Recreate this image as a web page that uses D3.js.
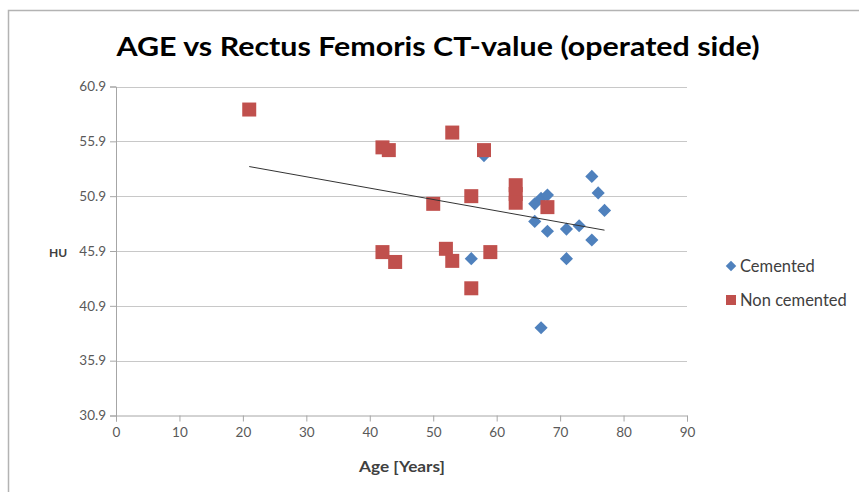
<!DOCTYPE html>
<html><head><meta charset="utf-8">
<script src="https://cdn.jsdelivr.net/npm/d3@7"></script>
<style>body{margin:0;background:#fff;} svg{display:block;}</style>
</head><body>
<script>
// Data
const cementedAge = [56, 58, 66, 66, 67, 68, 68, 71, 71, 73, 75, 75, 76, 77, 67];
const cementedHU  = [45.2, 54.6, 50.2, 48.6, 50.7, 51.0, 47.7, 47.9, 45.2, 48.2, 46.9, 52.7, 51.2, 49.6, 38.9];
const nonCementedAge = [21, 42, 43, 53, 58, 50, 56, 63, 63, 63, 68, 42, 44, 52, 53, 59, 56];
const nonCementedHU  = [58.8, 55.35, 55.1, 56.7, 55.1, 50.2, 50.9, 51.9, 51.1, 50.3, 49.9, 45.8, 44.9, 46.1, 45.0, 45.8, 42.5];
const trendAge = [21, 77];
const trendHU  = [53.6, 47.8];
const xTicks = [0, 10, 20, 30, 40, 50, 60, 70, 80, 90];
const yTicks = [30.9, 35.9, 40.9, 45.9, 50.9, 55.9, 60.9];
const seriesNames = ["Cemented", "Non cemented"];
const seriesColors = ["#4F81BD", "#C0504D"];

const W = 859, H = 492;
const svg = d3.select("body").append("svg").attr("width", W).attr("height", H);
const font = "Lato, 'Open Sans', sans-serif";

// chart border
svg.append("rect").attr("x", 8.5).attr("y", 10.5).attr("width", 900).attr("height", 600)
  .attr("fill", "none").attr("stroke", "#b3b3b3").attr("stroke-width", 1.5);

const x = d3.scaleLinear().domain([0, 90]).range([116, 687]);
const y = d3.scaleLinear().domain([30.9, 60.9]).range([415.5, 86.5]);

// gridlines
svg.append("g").selectAll("line").data(yTicks.slice(1)).join("line")
  .attr("x1", x(0)).attr("x2", x(90))
  .attr("y1", d => Math.round(y(d)) + 0.5).attr("y2", d => Math.round(y(d)) + 0.5)
  .attr("stroke", "#c8c8c8").attr("stroke-width", 1);

// axes
const yAxis = d3.axisLeft(y).tickValues(yTicks).tickFormat(d3.format(".1f")).tickSize(6).tickPadding(4);
const gy = svg.append("g").attr("transform", `translate(${x(0)},0)`).call(yAxis);
const xAxis = d3.axisBottom(x).tickValues(xTicks).tickSize(6).tickPadding(6);
const gx = svg.append("g").attr("transform", `translate(0,${y(30.9)})`).call(xAxis);
[gx, gy].forEach(g => {
  g.select(".domain").attr("stroke", "#a6a6a6");
  g.selectAll(".tick line").attr("stroke", "#a6a6a6");
  g.selectAll("text").attr("fill", "#595959").style("font-family", font).style("font-size", "13.5px");
});

// axis titles
svg.append("text").attr("x", 402).attr("y", 472).attr("text-anchor", "middle")
  .style("font-family", font).style("font-size", "15px").style("font-weight", "700")
  .attr("textLength", 86).attr("lengthAdjust", "spacingAndGlyphs")
  .attr("fill", "#404040").text("Age [Years]");
svg.append("text").attr("x", 58).attr("y", 257).attr("text-anchor", "middle")
  .style("font-family", font).style("font-size", "12px").style("font-weight", "700")
  .attr("fill", "#404040").text("HU");

// title
svg.append("text").attr("x", 438).attr("y", 56).attr("text-anchor", "middle")
  .style("font-family", font).style("font-size", "27px").style("font-weight", "700")
  .attr("textLength", 643).attr("lengthAdjust", "spacingAndGlyphs")
  .attr("fill", "#000").text("AGE vs Rectus Femoris CT-value (operated side)");

const diamond = d3.symbol().type(d3.symbolDiamond2).size(110);
const square = d3.symbol().type(d3.symbolSquare).size(196);

// Cemented series
svg.append("g").selectAll("path").data(d3.range(cementedAge.length)).join("path")
  .attr("d", diamond)
  .attr("transform", i => `translate(${x(cementedAge[i])},${y(cementedHU[i])})`)
  .attr("fill", seriesColors[0]);

// Non cemented series
svg.append("g").selectAll("path").data(d3.range(nonCementedAge.length)).join("path")
  .attr("d", square)
  .attr("transform", i => `translate(${x(nonCementedAge[i])},${y(nonCementedHU[i])})`)
  .attr("fill", seriesColors[1]);

// trendline
svg.append("path").datum(d3.range(trendAge.length))
  .attr("d", d3.line().x(i => x(trendAge[i])).y(i => y(trendHU[i])))
  .attr("stroke", "#333").attr("stroke-width", 1).attr("fill", "none");

// legend
const lg = svg.append("g");
const legendY = [266, 300];
lg.append("path").attr("d", d3.symbol().type(d3.symbolDiamond2).size(70)())
  .attr("transform", `translate(731,${legendY[0]})`).attr("fill", seriesColors[0]);
lg.append("path").attr("d", d3.symbol().type(d3.symbolSquare).size(100)())
  .attr("transform", `translate(731,${legendY[1]})`).attr("fill", seriesColors[1]);
seriesNames.forEach((n, i) => {
  lg.append("text").attr("x", 740).attr("y", legendY[i] + 5.5)
    .style("font-family", font).style("font-size", "16.5px")
    .attr("fill", "#404040").text(n);
});
</script>
</body></html>
